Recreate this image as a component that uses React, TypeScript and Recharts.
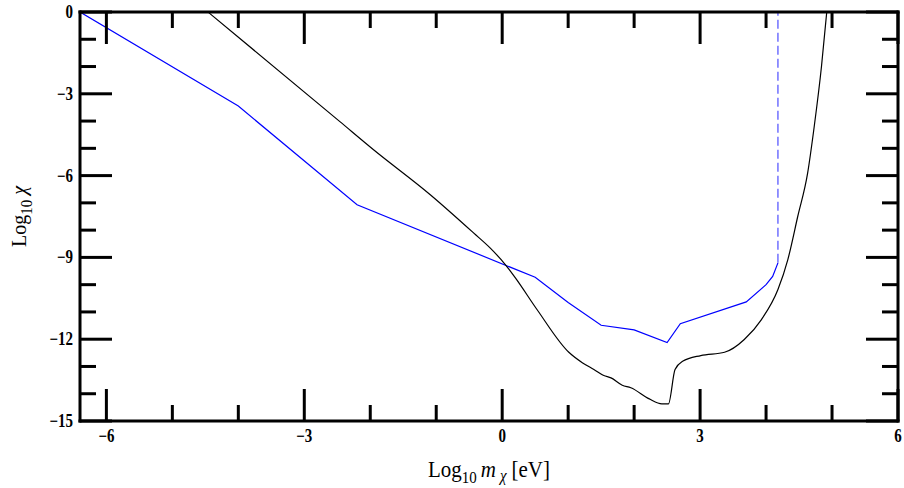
import React from 'react';
import { LineChart, Line, XAxis, YAxis } from 'recharts';

const xTicks = [-6, -5, -4, -3, -2, -1, 0, 1, 2, 3, 4, 5, 6];
const yTicks = [0, -1, -2, -3, -4, -5, -6, -7, -8, -9, -10, -11, -12, -13, -14, -15];

const blueX = [-6.4, -4.0, -2.2, 0.5, 1.0, 1.5, 2.0, 2.5, 2.7, 3.7, 4.0, 4.1, 4.18];
const blueY = [0, -3.45, -7.07, -9.73, -10.65, -11.49, -11.66, -12.12, -11.43, -10.63, -10.0, -9.7, -9.2];

const dashX = [4.18, 4.18];
const dashY = [-9.2, 0];

const blackX = [-4.46, -2.46, -1.95, -1.09, -0.43, -0.18, 0.05, 0.2, 0.53, 1.01, 1.22, 1.39, 1.54, 1.65, 1.82, 1.95, 2.23, 2.42, 2.52, 2.62, 2.735, 3.01, 3.37, 3.67, 3.93, 4.18, 4.33, 4.48, 4.63, 4.73, 4.84, 4.92];
const blackY = [0, -4.02, -5.05, -6.7, -8.11, -8.66, -9.27, -9.75, -10.92, -12.48, -12.87, -13.11, -13.33, -13.42, -13.69, -13.78, -14.19, -14.37, -14.37, -13.11, -12.81, -12.6, -12.48, -12.01, -11.28, -10.18, -9.08, -7.5, -5.91, -4.2, -2.0, 0];

const toPoints = (xs: number[], ys: number[]) => xs.map((x, i) => ({ x, y: ys[i] }));
const blueData = toPoints(blueX, blueY);
const dashData = toPoints(dashX, dashY);
const blackData = toPoints(blackX, blackY);

const fmt = (v: number) => (v < 0 ? '\u2212' + Math.abs(v) : String(v));
const MAJ = 32;
const MIN = 16;
const tickFont = { fontFamily: 'Liberation Serif', fontWeight: 'bold' as const, fontSize: 15, fill: '#000' };

const BottomTick = (p: any) => {
  const v = p.payload.value;
  const major = v % 3 === 0;
  return (
    <g>
      <line x1={p.x} x2={p.x} y1={p.y} y2={p.y - (major ? MAJ : MIN)} stroke="#000" strokeWidth={3} />
      {major && (
        <text x={0} y={0} transform={`translate(${p.x}, ${p.y + 21}) scale(1, 1.2)`} textAnchor="middle" {...tickFont}>{fmt(v)}</text>
      )}
    </g>
  );
};
const TopTick = (p: any) => {
  const v = p.payload.value;
  const major = v % 3 === 0;
  return <line x1={p.x} x2={p.x} y1={p.y} y2={p.y + (major ? MAJ : MIN)} stroke="#000" strokeWidth={3} />;
};
const LeftTick = (p: any) => {
  const v = p.payload.value;
  const major = v % 3 === 0;
  return (
    <g>
      <line x1={p.x} x2={p.x + (major ? MAJ : MIN)} y1={p.y} y2={p.y} stroke="#000" strokeWidth={3} />
      {major && (
        <text x={0} y={0} transform={`translate(${p.x - 7}, ${p.y + 6}) scale(1, 1.2)`} textAnchor="end" {...tickFont}>{fmt(v)}</text>
      )}
    </g>
  );
};
const RightTick = (p: any) => {
  const v = p.payload.value;
  const major = v % 3 === 0;
  return <line x1={p.x} x2={p.x - (major ? MAJ : MIN)} y1={p.y} y2={p.y} stroke="#000" strokeWidth={3} />;
};

const XTitle = (p: any) => {
  const vb = p.viewBox || {};
  const cx = vb.x + vb.width / 2;
  return (
    <text x={0} y={0} transform={`translate(${cx}, 477) scale(1, 1.12)`} textAnchor="middle" fontFamily="Liberation Serif" fontSize={21} fill="#000">
      Log<tspan fontSize={15} dy={5}>10</tspan>
      <tspan dy={-5} dx={4} fontStyle="italic">m</tspan>
      <tspan fontSize={15} dy={4} dx={4} fontStyle="italic">χ</tspan>
      <tspan dy={-4} dx={5}>[eV]</tspan>
    </text>
  );
};
const YTitle = (p: any) => {
  const vb = p.viewBox || {};
  const cy = vb.y + vb.height / 2;
  return (
    <text x={0} y={0} transform={`translate(26, ${cy}) rotate(-90) scale(1, 1.1)`} textAnchor="middle" fontFamily="Liberation Serif" fontSize={20} fill="#000">
      Log<tspan fontSize={15} dy={5}>10</tspan>
      <tspan dy={-5} dx={5} fontStyle="italic">χ</tspan>
    </text>
  );
};

const axisLine = { stroke: '#000', strokeWidth: 3, strokeLinecap: 'square' as const };

export default function App() {
  return (
    <div style={{ position: 'absolute', left: 0, top: 0, width: 904, height: 488, background: '#fff' }}>
      <LineChart width={904} height={488} margin={{ top: 11, right: 5, bottom: 0, left: 0 }}>
        <XAxis xAxisId="b" dataKey="x" type="number" domain={[-6.4, 6]} ticks={xTicks} interval={0}
          allowDataOverflow orientation="bottom" height={67} tickSize={0} tickMargin={0} tickLine={false}
          axisLine={axisLine} tick={BottomTick} label={{ content: XTitle }} />
        <XAxis xAxisId="t" dataKey="x" type="number" domain={[-6.4, 6]} ticks={xTicks} interval={0}
          allowDataOverflow orientation="top" height={1} tickSize={0} tickMargin={0} tickLine={false}
          axisLine={axisLine} tick={TopTick} />
        <YAxis yAxisId="l" dataKey="y" type="number" domain={[-15, 0]} ticks={yTicks} interval={0}
          allowDataOverflow orientation="left" width={80} tickSize={0} tickMargin={0} tickLine={false}
          axisLine={axisLine} tick={LeftTick} label={{ content: YTitle }} />
        <YAxis yAxisId="r" dataKey="y" type="number" domain={[-15, 0]} ticks={yTicks} interval={0}
          allowDataOverflow orientation="right" width={1} tickSize={0} tickMargin={0} tickLine={false}
          axisLine={axisLine} tick={RightTick} />
        <Line xAxisId="b" yAxisId="l" data={blueData} dataKey="y" type="linear" stroke="#0000ff" strokeWidth={1.2} dot={false} isAnimationActive={false} />
        <Line xAxisId="b" yAxisId="l" data={dashData} dataKey="y" type="linear" stroke="#5a5aff" strokeWidth={1.3} strokeDasharray="9 4" dot={false} isAnimationActive={false} />
        <Line xAxisId="b" yAxisId="l" data={blackData} dataKey="y" type="monotone" stroke="#000" strokeWidth={1.2} dot={false} isAnimationActive={false} />
      </LineChart>
    </div>
  );
}
